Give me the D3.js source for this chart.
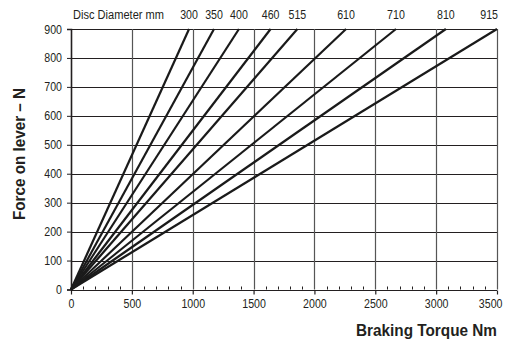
<!DOCTYPE html>
<html><head><meta charset="utf-8">
<script src="https://cdn.jsdelivr.net/npm/d3@7"></script>
<style>
body{margin:0;background:#fff;}
text{font-family:"Liberation Sans",Arial,sans-serif;fill:#231f20;}
</style></head><body>
<svg id="c" width="506" height="344"></svg>
<script>
const diameters = [300, 350, 400, 460, 515, 610, 710, 810, 915];
const torqueAt900 = [970, 1175, 1380, 1640, 1860, 2260, 2670, 3080, 3500];
const forceMax = 900;
const xTicks = [0, 500, 1000, 1500, 2000, 2500, 3000, 3500];
const yTicks = [0, 100, 200, 300, 400, 500, 600, 700, 800, 900];

const svg = d3.select("#c");
const x = d3.scaleLinear().domain([0, 3500]).range([71, 497]);
const y = d3.scaleLinear().domain([0, 900]).range([289.5, 29]);

function condense(sel, f) {
  sel.each(function () {
    const w = this.getComputedTextLength();
    d3.select(this).attr("textLength", w * f).attr("lengthAdjust", "spacingAndGlyphs");
  });
}

// grid
svg.append("g").selectAll("line").data(yTicks).join("line")
  .attr("x1", x(0)).attr("x2", x(3500))
  .attr("y1", d => Math.round(y(d)) + 0.5).attr("y2", d => Math.round(y(d)) + 0.5)
  .attr("stroke", "#231f20").attr("stroke-width", 1);
svg.append("g").selectAll("line").data(xTicks.slice(1)).join("line")
  .attr("x1", d => Math.round(x(d)) + 0.5).attr("x2", d => Math.round(x(d)) + 0.5)
  .attr("y1", y(900)).attr("y2", y(0))
  .attr("stroke", "#555").attr("stroke-width", 1.2);

// x axis
const xAxis = d3.axisBottom(x).tickValues(xTicks).tickFormat(d3.format("d")).tickSize(4).tickPadding(5);
const gx = svg.append("g").attr("transform", `translate(0,${Math.round(y(0)) + 0.5})`).call(xAxis);
gx.select(".domain").remove();
gx.selectAll(".tick line").attr("stroke", "#231f20").attr("stroke-width", 1.2);
gx.selectAll("text").attr("font-size", 12.5).attr("fill", "#231f20");
gx.selectAll(".tick").filter(d => d === 3500).select("text")
  .attr("text-anchor", "end").attr("x", 502 - x(3500));
condense(gx.selectAll("text"), 0.85);
// minor ticks
const minor = d3.range(100, 3500, 100).filter(v => v % 500 !== 0);
svg.append("g").selectAll("line").data(minor).join("line")
  .attr("x1", d => Math.round(x(d)) + 0.5).attr("x2", d => Math.round(x(d)) + 0.5)
  .attr("y1", y(0)).attr("y2", y(0) - 3)
  .attr("stroke", "#231f20").attr("stroke-width", 1);

// y axis
const yAxis = d3.axisLeft(y).tickValues(yTicks).tickFormat(d3.format("d")).tickSize(4).tickPadding(5);
const gy = svg.append("g").attr("transform", `translate(${x(0)},0)`).call(yAxis);
gy.select(".domain").attr("stroke", "#231f20").attr("stroke-width", 1.6);
gy.selectAll(".tick line").attr("stroke", "#231f20").attr("stroke-width", 1);
gy.selectAll("text").attr("font-size", 12.5).attr("fill", "#231f20");
condense(gy.selectAll("text"), 0.85);

// lines
svg.append("g").selectAll("line").data(torqueAt900).join("line")
  .attr("x1", x(0)).attr("y1", y(0))
  .attr("x2", d => x(d)).attr("y2", y(forceMax))
  .attr("stroke", "#1a1a1a").attr("stroke-width", 2.2);

// top labels
svg.append("text").attr("x", 73).attr("y", 19).attr("font-size", 12.5)
  .attr("textLength", 91).attr("lengthAdjust", "spacingAndGlyphs").text("Disc Diameter mm");
const tl = svg.append("g").selectAll("text").data(diameters).join("text")
  .attr("x", (d, i) => i === diameters.length - 1 ? x(torqueAt900[i]) + 1 : x(torqueAt900[i]))
  .attr("y", 19).attr("font-size", 12.5)
  .attr("text-anchor", (d, i) => i === diameters.length - 1 ? "end" : "middle")
  .text(d => d);
condense(tl, 0.85);

// axis titles
svg.append("text").attr("x", 497).attr("y", 336).attr("text-anchor", "end")
  .attr("font-size", 16).attr("font-weight", "bold")
  .attr("textLength", 141).attr("lengthAdjust", "spacingAndGlyphs").text("Braking Torque Nm");
svg.append("text").attr("transform", "translate(25,154) rotate(-90)").attr("text-anchor", "middle")
  .attr("font-size", 16).attr("font-weight", "bold")
  .attr("textLength", 132).attr("lengthAdjust", "spacingAndGlyphs").text("Force on lever – N");
</script></body></html>
